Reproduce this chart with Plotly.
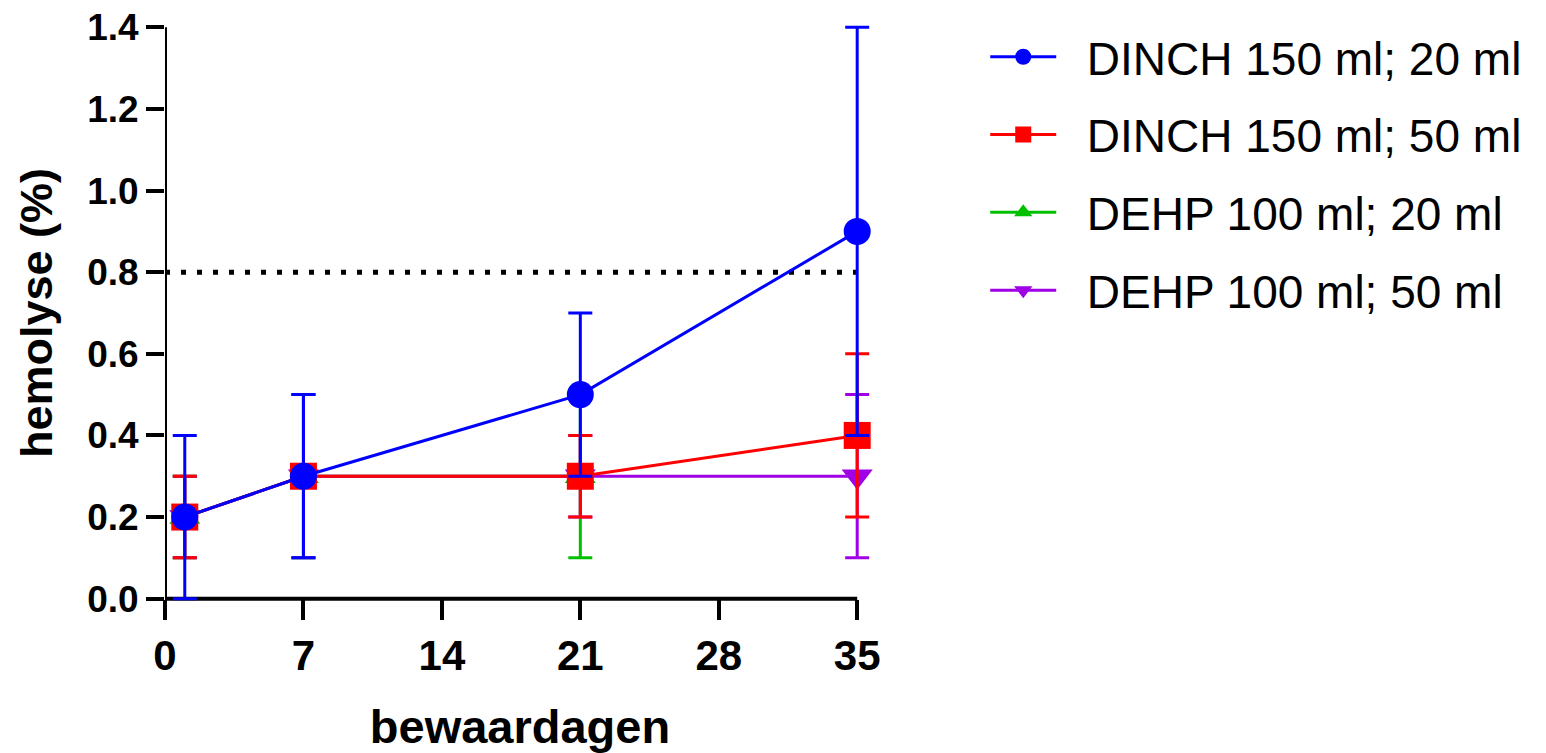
import plotly.graph_objects as go

# ---- data ----
days = [1, 7, 21, 35]
series_names = ["DINCH 150 ml; 20 ml", "DINCH 150 ml; 50 ml",
                "DEHP 100 ml; 20 ml", "DEHP 100 ml; 50 ml"]
dinch_20 = [0.2, 0.3, 0.5, 0.9]
dinch_20_sd = [0.2, 0.2, 0.2, 0.5]
dinch_50 = [0.2, 0.3, 0.3, 0.4]
dinch_50_sd = [0.1, 0.0, 0.1, 0.2]
dehp_20 = [0.2, 0.3, 0.3, None]
dehp_20_sd = [0.1, 0.2, 0.2, 0.0]
dehp_50 = [0.2, 0.3, 0.3, 0.3]
dehp_50_sd = [0.1, 0.2, 0.1, 0.2]
threshold = 0.8
x_ticks = [0, 7, 14, 21, 28, 35]
y_ticks = [0.0, 0.2, 0.4, 0.6, 0.8, 1.0, 1.2, 1.4]

colors = ["#0000FF", "#FF0000", "#00C000", "#A000E6"]
symbols = ["circle", "square", "triangle-up", "triangle-down"]
values = [dinch_20, dinch_50, dehp_20, dehp_50]
errors = [dinch_20_sd, dinch_50_sd, dehp_20_sd, dehp_50_sd]

# ---- layout geometry (pixels) ----
W, H = 1546, 753
x0_px, x35_px = 165, 857          # pixel of x=0 and x=35
y0_px, y14_px = 599, 27           # pixel of y=0 and y=1.4
xmin, xmax = x_ticks[0], x_ticks[-1]
ymin, ymax = y_ticks[0], y_ticks[-1]
x_pad, y_pad = 0.9, 0.04          # room so caps at the edges are not clipped
px_per_x = (x35_px - x0_px) / (xmax - xmin)
px_per_y = (y0_px - y14_px) / (ymax - ymin)
plot_w = (xmax + x_pad - xmin) * px_per_x
plot_h = (ymax - ymin + 2 * y_pad) * px_per_y
m_l = x0_px
m_r = W - m_l - plot_w
m_t = y14_px - y_pad * px_per_y
m_b = H - m_t - plot_h
x_axis_pos = y_pad / (ymax - ymin + 2 * y_pad)

fig = go.Figure()

# axis lines limited to the data range (drawn beneath the data)
fig.add_shape(type="line", xref="x", yref="y", x0=xmin, x1=xmax, y0=ymin, y1=ymin,
              line=dict(color="black", width=4), layer="below")
fig.add_shape(type="line", xref="x", yref="y", x0=xmin, x1=xmin,
              y0=ymin - 0.006, y1=ymax,
              line=dict(color="black", width=4), layer="below")
# threshold line
fig.add_shape(type="line", xref="x", yref="y", x0=xmin, x1=xmax,
              y0=threshold, y1=threshold,
              line=dict(color="black", width=5, dash="5px,11px"), layer="below")

for i in [2, 3, 1, 0]:
    fig.add_trace(go.Scatter(
        x=days, y=values[i], name="\u00a0\u00a0" + series_names[i],
        mode="lines+markers",
        line=dict(color=colors[i], width=3),
        marker=dict(color=colors[i], symbol=symbols[i], size=27),
        error_y=dict(type="data", array=errors[i], visible=True,
                     color=colors[i], thickness=3, width=12),
        legendrank=i + 1, legendgroup=str(i),
        cliponaxis=False,
    ))

fig.update_layout(
    width=W, height=H,
    margin=dict(l=m_l, r=m_r, t=m_t, b=m_b, autoexpand=False),
    paper_bgcolor="white", plot_bgcolor="white",
    font=dict(family="Liberation Sans, Arial, sans-serif", color="black"),
    showlegend=True,
    legend=dict(x=(985 - m_l) / plot_w, y=(H - m_b - 20) / plot_h,
                xanchor="left", yanchor="top",
                font=dict(size=46, color="black"),
                itemwidth=66, tracegroupgap=15, bgcolor="rgba(0,0,0,0)"),
    xaxis=dict(range=[xmin, xmax + x_pad], tickvals=x_ticks,
               ticktext=[str(v) for v in x_ticks],
               anchor="free", position=x_axis_pos,
               showgrid=False, zeroline=False, showline=False,
               ticks="outside", ticklen=20, tickwidth=4, tickcolor="black",
               tickfont=dict(size=42, weight="bold"),
               title=dict(text="<b>bewaardagen</b>", font=dict(size=47), standoff=34)),
    yaxis=dict(range=[ymin - y_pad, ymax + y_pad], tickvals=y_ticks,
               ticktext=[f"{v:.1f}" for v in y_ticks],
               showgrid=False, zeroline=False, showline=False,
               ticks="outside", ticklen=18, tickwidth=4, tickcolor="black",
               tickfont=dict(size=37, weight="bold"),
               title=dict(text="<b>hemolyse (%)</b>", font=dict(size=45), standoff=20)),
)

fig.write_html("out.html")
